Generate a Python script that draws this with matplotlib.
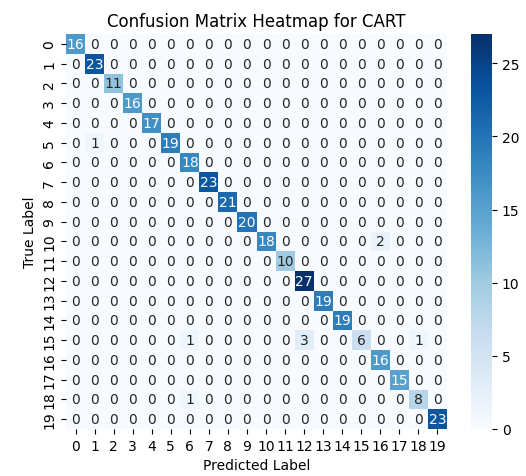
import numpy as np
import matplotlib
matplotlib.use("Agg")
import matplotlib.pyplot as plt
import seaborn as sns

labels = [str(i) for i in range(20)]
diag = [16, 23, 11, 16, 17, 19, 18, 23, 21, 20, 18, 10, 27, 19, 19, 6, 16, 15, 8, 23]
# off-diagonal entries: (true, predicted, count)
off_rows = [5, 10, 15, 15, 15, 18]
off_cols = [1, 16, 6, 12, 18, 6]
off_vals = [1, 2, 1, 3, 1, 1]

cm = np.zeros((20, 20), dtype=int)
for i, v in enumerate(diag):
    cm[i, i] = v
for r, c, v in zip(off_rows, off_cols, off_vals):
    cm[r, c] = v

fig = plt.figure(figsize=(5.26, 4.77), dpi=100)
W, H = 526, 477
ax = fig.add_axes([66 / W, (H - 430) / H, 381 / W, 395 / H])
cax = fig.add_axes([471 / W, (H - 430) / H, 21 / W, 395 / H])
sns.heatmap(cm, annot=True, fmt="d", cmap="Blues", ax=ax, cbar_ax=cax,
            xticklabels=labels, yticklabels=labels)
ax.set_title("Confusion Matrix Heatmap for CART", fontsize=12)
ax.set_xlabel("Predicted Label")
ax.set_ylabel("True Label")
cax.tick_params(labelsize=10)
fig.savefig("out.png", dpi=100)
